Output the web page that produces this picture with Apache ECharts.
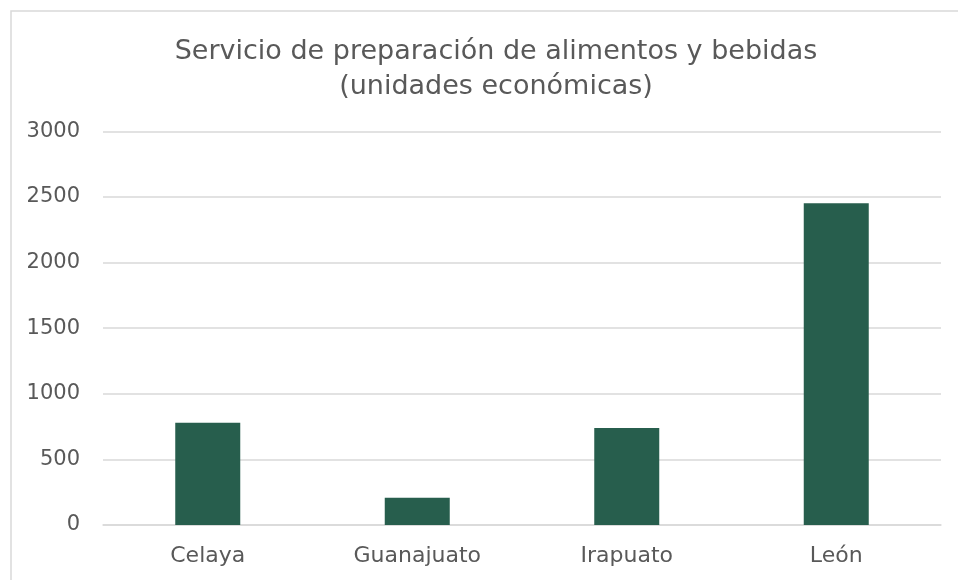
<!DOCTYPE html>
<html>
<head>
<meta charset="utf-8">
<script src="https://cdn.jsdelivr.net/npm/echarts@6/dist/echarts.min.js"></script>
<style>
  html, body { margin: 0; padding: 0; background: #fff; }
  #chart { width: 958px; height: 580px; }
</style>
</head>
<body>
<div id="chart"></div>
<script>
var categories = ["Celaya", "Guanajuato", "Irapuato", "León"];
var values = [780, 208, 739, 2452];
var titleLines = ["Servicio de preparación de alimentos y bebidas", "(unidades económicas)"];

var fontFam = "'DejaVu Sans', sans-serif";
var myChart = echarts.init(document.getElementById("chart"));

var option = {
  backgroundColor: "#fff",
  animation: false,
  title: {
    text: titleLines.join("\n"),
    left: 491,
    top: 29,
    textAlign: "center",
    textStyle: {
      color: "#595959",
      fontFamily: fontFam,
      fontWeight: "normal",
      fontSize: 27,
      lineHeight: 35
    }
  },
  graphic: [
    {
      type: "rect",
      shape: { x: 11, y: 11, width: 1000, height: 700 },
      style: { fill: "none", stroke: "#d9d9d9", lineWidth: 1.5 },
      silent: true
    }
  ],
  grid: { left: 103, right: 17, top: 131.4, bottom: 55 },
  xAxis: {
    type: "category",
    data: categories,
    axisLine: { lineStyle: { color: "#d9d9d9", width: 1.5 } },
    axisTick: { show: false },
    axisLabel: {
      color: "#595959",
      fontFamily: fontFam,
      fontSize: 22,
      margin: 20
    }
  },
  yAxis: {
    type: "value",
    min: 0,
    max: 3000,
    interval: 500,
    axisLine: { show: false },
    axisTick: { show: false },
    splitLine: { lineStyle: { color: "#d9d9d9", width: 1.5 } },
    axisLabel: {
      color: "#595959",
      fontFamily: fontFam,
      fontSize: 21,
      margin: 23,
      formatter: function (v) { return String(v); }
    }
  },
  series: [
    {
      type: "bar",
      data: values,
      barWidth: 65,
      itemStyle: { color: "#275E4D" }
    }
  ]
};

myChart.setOption(option);
</script>
</body>
</html>
